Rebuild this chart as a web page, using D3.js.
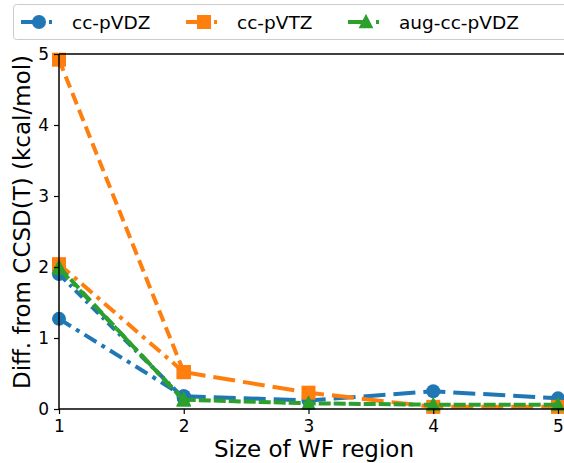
<!DOCTYPE html>
<html><head><meta charset="utf-8">
<script src="https://cdn.jsdelivr.net/npm/d3@7"></script>
<style>body{margin:0;background:#fff}svg{display:block}text{font-family:"DejaVu Sans",sans-serif}</style>
</head><body><svg id="c" width="564" height="463"></svg>
<script>
const basisSets = ["cc-pVDZ", "cc-pVTZ", "aug-cc-pVDZ"];
const colors = ["#1f77b4", "#ff7f0e", "#2ca02c"];
const markers = ["circle", "square", "triangle"];
const xTicks = [1, 2, 3, 4, 5];
const yTicks = [0, 1, 2, 3, 4, 5];
// per basis: three curves (x positions and values)
const xShort = [1, 2];
const xLong = [2, 3, 4, 5];
const pvdzA = [1.27, 0.18];
const pvdzB = [1.90, 0.15];
const pvdzC = [0.18, 0.12, 0.25, 0.15];
const pvtzA = [4.92, 0.52];
const pvtzB = [2.04, 0.52];
const pvtzC = [0.52, 0.23, 0.03, 0.03];
const augA = [1.98, 0.13];
const augB = [2.00, 0.12];
const augC = [0.13, 0.08, 0.06, 0.06];
const seriesValues = [[pvdzA, pvdzB, pvdzC], [pvtzA, pvtzB, pvtzC], [augA, augB, augC]];
const xLabel = "Size of WF region";
const yLabel = "Diff. from CCSD(T) (kcal/mol)";

const svg = d3.select("#c");
const L = 59, T = 54, B = 409, Rx = 558;
const x = d3.scaleLinear().domain([1, 5]).range([L, Rx]);
const y = d3.scaleLinear().domain([0, 5]).range([B, T]);

const dashes = [["14,6,4,6", "10,5,3,5", "22,8"], ["12,6", "14,6,4,6", "22,8"], ["14,6,4,6", "12,5", "12,3"]];

const g = svg.append("g");
g.append("defs").append("clipPath").attr("id", "clip").append("rect")
  .attr("x", L - 10).attr("y", T - 10).attr("width", 600).attr("height", B - T + 20);

const plot = g.append("g").attr("clip-path", "url(#clip)");
const lineGen = d3.line().x(d => x(d[0])).y(d => y(d[1]));
function drawMarker(sel, type, cx, cy, color, size) {
  if (type === "circle") sel.append("circle").attr("cx", cx).attr("cy", cy).attr("r", size / 2).attr("fill", color);
  else if (type === "square") sel.append("rect").attr("x", cx - size / 2).attr("y", cy - size / 2).attr("width", size).attr("height", size).attr("fill", color);
  else {
    const h = size * 1.05;
    sel.append("path").attr("d", `M${cx},${cy - h / 2 - 1}L${cx + h / 2},${cy + h / 2 - 1}L${cx - h / 2},${cy + h / 2 - 1}Z`).attr("fill", color);
  }
}
seriesValues.forEach((sets, i) => {
  sets.forEach((vals, j) => {
    const xs = j < 2 ? xShort : xLong;
    const pts = xs.map((xv, k) => [xv, vals[k]]);
    plot.append("path").attr("d", lineGen(pts)).attr("fill", "none")
      .attr("stroke", colors[i]).attr("stroke-width", 4).attr("stroke-dasharray", dashes[i][j]);
    pts.forEach(p => drawMarker(plot, markers[i], x(p[0]), y(p[1]), colors[i], 14));
  });
});

// axes
const xAxis = g.append("g").attr("transform", `translate(0,${B})`).call(d3.axisBottom(x).tickValues(xTicks).tickSize(5).tickPadding(6).tickFormat(d3.format("d")));
const yAxis = g.append("g").attr("transform", `translate(${L},0)`).call(d3.axisLeft(y).tickValues(yTicks).tickSize(5).tickPadding(5).tickFormat(d3.format("d")));
[xAxis, yAxis].forEach(a => {
  a.select(".domain").remove();
  a.selectAll("line").attr("stroke", "#000").attr("stroke-width", 1.2);
  a.selectAll("text").attr("font-size", 17).attr("fill", "#000").attr("font-family", "DejaVu Sans");
});
// spines
g.append("line").attr("x1", L).attr("x2", 600).attr("y1", B).attr("y2", B).attr("stroke", "#000").attr("stroke-width", 1.5);
g.append("line").attr("x1", L).attr("x2", 600).attr("y1", T).attr("y2", T).attr("stroke", "#000").attr("stroke-width", 1.5);
g.append("line").attr("x1", L).attr("x2", L).attr("y1", T).attr("y2", B).attr("stroke", "#000").attr("stroke-width", 1.5);

g.append("text").attr("x", 314).attr("y", 457).attr("text-anchor", "middle").attr("font-size", 23).text(xLabel);
g.append("text").attr("transform", `translate(30,222) rotate(-90)`).attr("text-anchor", "middle").attr("font-size", 23).text(yLabel);

// legend
const leg = svg.append("g");
leg.append("rect").attr("x", 13.5).attr("y", 4.5).attr("width", 560).attr("height", 35).attr("rx", 3)
  .attr("fill", "#fff").attr("fill-opacity", 0.8).attr("stroke", "#ccc");
const legX = [21, 186, 348];
basisSets.forEach((name, i) => {
  const lx = legX[i], ly = 22;
  leg.append("line").attr("x1", lx).attr("x2", lx + 34).attr("y1", ly).attr("y2", ly)
    .attr("stroke", colors[i]).attr("stroke-width", 4).attr("stroke-dasharray", "20,8,3,8");
  drawMarker(leg, markers[i], lx + 18, ly, colors[i], 14);
  leg.append("text").attr("x", lx + 51).attr("y", ly + 7).attr("font-size", 18.5).text(name);
});
</script></body></html>
